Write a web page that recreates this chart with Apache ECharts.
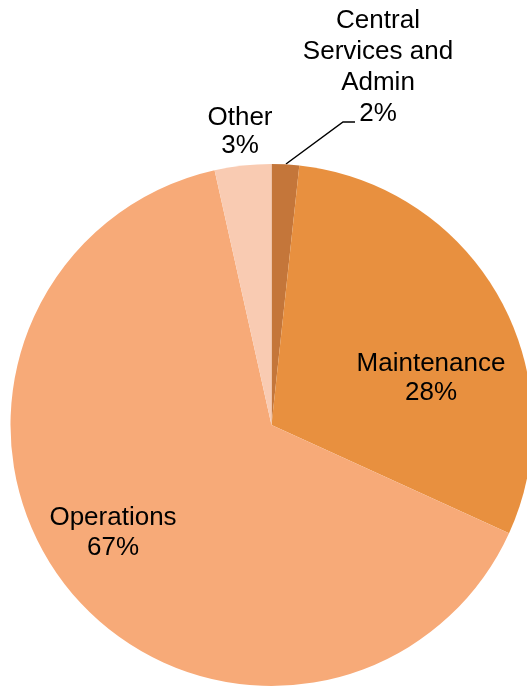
<!DOCTYPE html>
<html>
<head>
<meta charset="utf-8">
<script src="https://cdn.jsdelivr.net/npm/echarts@6/dist/echarts.min.js"></script>
<style>
html,body{margin:0;padding:0;background:#fff;}
#chart{width:527px;height:687px;}
</style>
</head>
<body>
<div id="chart"></div>
<script>
// Data (slice sizes as drawn, labels as printed)
var categories = ['Central\nServices and\nAdmin', 'Maintenance', 'Operations', 'Other'];
var values = [1.7, 30.1, 64.7, 3.5];
var pctLabels = ['2%', '28%', '67%', '3%'];
var colors = ['#C4763A', '#E8903F', '#F7AA78', '#F9CBB2'];

var labelPos = [
  {x: 378, y: 67, lh: 31},
  {x: 431, y: 378, lh: 29},
  {x: 113, y: 533, lh: 30},
  {x: 240, y: 132, lh: 28}
];

var chart = echarts.init(document.getElementById('chart'), null, {renderer: 'canvas'});
var data = categories.map(function (c, i) {
  return {
    name: c,
    value: values[i],
    itemStyle: {color: colors[i]},
    label: {lineHeight: labelPos[i].lh},
    labelLine: {show: i === 0}
  };
});

chart.setOption({
  animation: false,
  series: [{
    type: 'pie',
    center: [271.5, 425],
    radius: 261,
    startAngle: 90,
    clockwise: true,
    avoidLabelOverlap: false,
    data: data,
    itemStyle: {borderWidth: 0},
    label: {
      show: true,
      position: 'outside',
      fontFamily: 'Liberation Sans, Arial, sans-serif',
      fontSize: 26,
      color: '#000',
      align: 'center',
      formatter: function (p) { return p.name + '\n' + pctLabels[p.dataIndex]; }
    },
    labelLine: {
      show: true,
      lineStyle: {color: '#000', width: 1.5}
    },
    labelLayout: function (p) {
      var i = p.dataIndex;
      var r = {x: labelPos[i].x, y: labelPos[i].y, align: 'center', verticalAlign: 'middle'};
      if (i === 0) {
        r.labelLinePoints = [[286, 164], [343, 122], [355, 122]];
      }
      return r;
    }
  }]
});
</script>
</body>
</html>
